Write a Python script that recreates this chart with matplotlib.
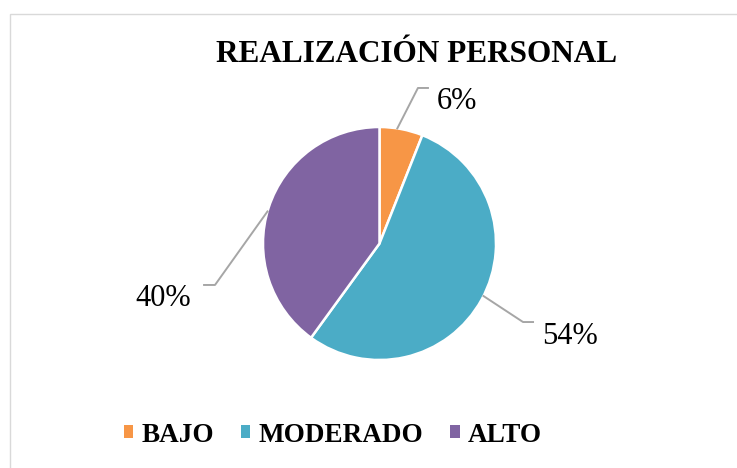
import numpy as np
import matplotlib
matplotlib.use('Agg')
from matplotlib import pyplot as plt
from matplotlib.patches import Rectangle
from matplotlib.lines import Line2D

title = 'REALIZACIÓN PERSONAL'
labels = ['BAJO', 'MODERADO', 'ALTO']
values = [6, 54, 40]
colors = ['#F79646', '#4BACC6', '#8064A2']

# leader elbows / label anchors, in pie radius units
elbows = [(0.33, 1.335), (1.232, -0.674), (-1.412, -0.356)]
line_ends = [0.416, 1.318, -1.506]
text_pos = [(0.49, 1.215, 'left'), (1.395, -0.80, 'left'), (-1.618, -0.47, 'right')]

W, H = 737, 468
cx, cy, r = 379.5, 243.5, 116.5

plt.rcParams['font.family'] = ['Liberation Serif', 'DejaVu Serif']

fig = plt.figure(figsize=(W / 100, H / 100), dpi=100)
fig.patches.append(Rectangle((9.5 / W, -0.1), 1.2, (H - 14.5) / H + 0.1,
                             transform=fig.transFigure, fill=False,
                             edgecolor='#d9d9d9', linewidth=1.0))

ax = fig.add_axes([0, 0, 1, 1])
wedges, _ = ax.pie(values, colors=colors, startangle=90, counterclock=False,
                   radius=1, wedgeprops=dict(edgecolor='white', linewidth=1.8))
ax.set_xlim(-cx / r, (W - cx) / r)
ax.set_ylim(-(H - cy) / r, cy / r)
ax.set_aspect('auto')
ax.axis('off')

for w, v, (ex, ey), xe, (tx, ty, ha) in zip(wedges, values, elbows, line_ends, text_pos):
    mid = np.deg2rad((w.theta1 + w.theta2) / 2 + 2)
    x0, y0 = np.cos(mid), np.sin(mid)
    ax.add_line(Line2D([x0, ex, xe], [y0, ey, ey], color='#a6a6a6', linewidth=1.4,
                       clip_on=False))
    ax.text(tx, ty, f'{v}%', ha=ha, va='center', fontsize=22, color='black')

fig.text(417 / W, 1 - 54 / H, title, ha='center', va='center',
         fontsize=22.5, fontweight='bold')

handles = [Rectangle((0, 0), 1, 1, facecolor=c, edgecolor='none') for c in colors]
fig.legend(handles, labels, loc='center', bbox_to_anchor=(333 / W, 1 - 435 / H),
           ncol=3, frameon=False, handlelength=0.34, handleheight=0.34,
           handletextpad=0.3, columnspacing=1.0,
           prop=dict(size=19.5, weight='bold'))

fig.savefig('out.png', dpi=100)
